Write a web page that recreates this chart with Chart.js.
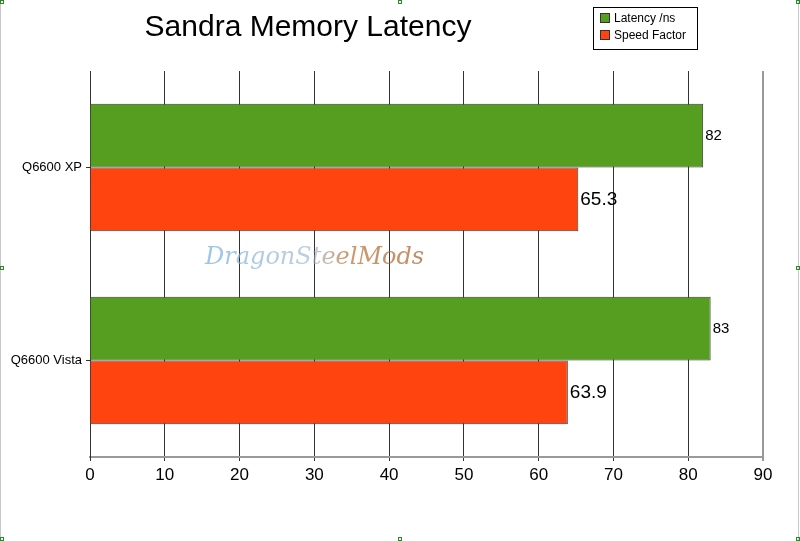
<!DOCTYPE html>
<html>
<head>
<meta charset="utf-8">
<script src="https://cdn.jsdelivr.net/npm/chart.js@4.4.1/dist/chart.umd.min.js"></script>
<style>
  html, body { margin: 0; padding: 0; background: #fff; }
  #wrap { width: 800px; height: 541px; position: relative; }
</style>
</head>
<body>
<div id="wrap"><canvas id="c" width="800" height="541"></canvas></div>
<script>
const chartTitle = 'Sandra Memory Latency';
const categories = ['Q6600 XP', 'Q6600 Vista'];
const seriesNames = ['Latency /ns', 'Speed Factor'];
const latency = [82, 83];
const speedFactor = [65.3, 63.9];
const xTicks = [0, 10, 20, 30, 40, 50, 60, 70, 80, 90];
const watermark = 'DragonSteelMods';

const GREEN = '#569E1F';
const RED = '#FF4410';

const decorPlugin = {
  id: 'decor',
  beforeDatasetsDraw(chart) {
    const ctx = chart.ctx;
    ctx.save();
    ctx.font = 'italic 24px "DejaVu Serif"';
    ctx.textBaseline = 'middle';
    ctx.textAlign = 'left';
    const g = ctx.createLinearGradient(205, 0, 440, 0);
    g.addColorStop(0, 'rgba(120,180,225,0.75)');
    g.addColorStop(0.45, 'rgba(150,175,200,0.6)');
    g.addColorStop(0.6, 'rgba(190,120,60,0.75)');
    g.addColorStop(1, 'rgba(160,90,40,0.7)');
    ctx.fillStyle = g;
    ctx.fillText(watermark, 205, 258);
    ctx.restore();
  },
  afterDraw(chart) {
    const ctx = chart.ctx;
    ctx.save();
    // title
    ctx.fillStyle = '#000';
    ctx.font = '30px "Liberation Sans", Arial, sans-serif';
    ctx.textAlign = 'center';
    ctx.textBaseline = 'middle';
    ctx.fillText(chartTitle, 308, 28);

    // data labels
    chart.data.datasets.forEach((ds, di) => {
      const meta = chart.getDatasetMeta(di);
      ctx.font = (di === 0 ? '15px' : '19px') + ' "Liberation Sans", Arial, sans-serif';
      ctx.textAlign = 'left';
      ctx.textBaseline = 'middle';
      meta.data.forEach((bar, i) => {
        ctx.fillText(String(ds.data[i]), bar.x + 2, bar.y);
      });
    });

    // legend box
    const lx = 593, ly = 7, lw = 104, lh = 42;
    ctx.fillStyle = '#fff';
    ctx.fillRect(lx, ly, lw, lh);
    ctx.strokeStyle = '#000';
    ctx.lineWidth = 1;
    ctx.strokeRect(lx + 0.5, ly + 0.5, lw, lh);
    ctx.font = '12px "Liberation Sans", Arial, sans-serif';
    chart.data.datasets.forEach((ds, di) => {
      const y = ly + 11 + di * 17;
      ctx.fillStyle = ds.backgroundColor;
      ctx.fillRect(lx + 7, y - 5, 10, 10);
      ctx.strokeStyle = '#333';
      ctx.strokeRect(lx + 7.5, y - 4.5, 9, 9);
      ctx.fillStyle = '#000';
      ctx.textAlign = 'left';
      ctx.fillText(ds.label, lx + 21, y + 1);
    });

    // outer frame lines and selection handles
    ctx.strokeStyle = '#c8c8c8';
    ctx.beginPath();
    ctx.moveTo(0.5, 0); ctx.lineTo(0.5, 541);
    ctx.moveTo(798.5, 0); ctx.lineTo(798.5, 541);
    ctx.stroke();
    ctx.strokeStyle = '#2a8a2a';
    const hs = [[0, 266], [796, 266], [398, 0], [398, 537], [796, 0], [796, 537], [0, 0], [0, 537]];
    hs.forEach(([x, y]) => ctx.strokeRect(x + 0.5, y + 0.5, 3, 3));
    ctx.restore();
  }
};

new Chart(document.getElementById('c'), {
  type: 'bar',
  data: {
    labels: categories,
    datasets: [
      { label: seriesNames[0], data: latency, backgroundColor: GREEN, borderColor: '#3a3a3a', borderWidth: 1 },
      { label: seriesNames[1], data: speedFactor, backgroundColor: RED, borderColor: '#3a3a3a', borderWidth: 1 }
    ]
  },
  options: {
    indexAxis: 'y',
    responsive: false,
    animation: false,
    devicePixelRatio: 1,
    layout: { padding: { left: 0, top: 71, right: 37, bottom: 0 } },
    datasets: { bar: { categoryPercentage: 0.66, barPercentage: 1.0 } },
    plugins: {
      legend: { display: false },
      title: { display: false },
      tooltip: { enabled: false }
    },
    scales: {
      x: {
        min: 0, max: 90,
        afterBuildTicks(scale) { scale.ticks = xTicks.map(v => ({ value: v })); },
        afterFit(scale) { scale.height = 84; },
        grid: {
          color: ctx => (ctx.tick && ctx.tick.value === 90 ? '#999' : '#333'),
          lineWidth: ctx => (ctx.tick && ctx.tick.value === 90 ? 2 : 1),
          tickLength: 4,
          drawOnChartArea: true
        },
        border: { color: '#999', width: 2 },
        ticks: {
          color: '#000',
          padding: 4,
          font: { family: '"Liberation Sans", Arial, sans-serif', size: 17 }
        }
      },
      y: {
        afterFit(scale) { scale.width = 90; },
        grid: { drawOnChartArea: false, tickLength: 4, color: '#333', offset: false },
        border: { color: '#333', width: 1 },
        ticks: {
          color: '#000',
          padding: 4,
          font: { family: '"Liberation Sans", Arial, sans-serif', size: 13 }
        }
      }
    }
  },
  plugins: [decorPlugin]
});
</script>
</body>
</html>
